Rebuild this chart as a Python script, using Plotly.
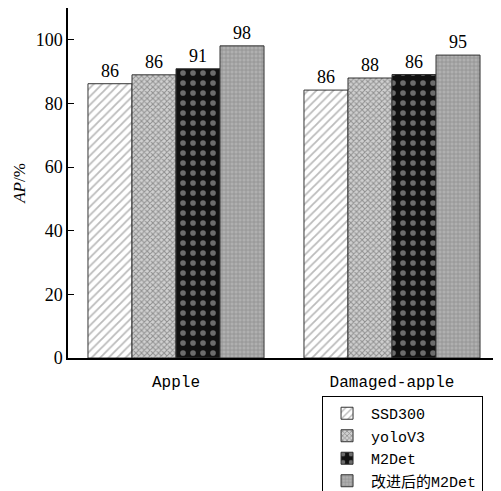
import plotly.graph_objects as go

categories = ["Apple", "Damaged-apple"]
series_names = ["SSD300", "yoloV3", "M2Det", "改进后的M2Det"]
bar_values = [
    [86.2, 84.2],
    [89.0, 88.0],
    [90.9, 89.1],
    [98.1, 95.2],
]
bar_labels = [
    ["86", "86"],
    ["86", "88"],
    ["91", "86"],
    ["98", "95"],
]
y_ticks = [0, 20, 40, 60, 80, 100]

patterns = [
    dict(shape="/", bgcolor="white", fgcolor="#777777", size=6, solidity=0.3),
    dict(shape="x", bgcolor="#d0d0d0", fgcolor="#505050", size=4, solidity=0.45),
    dict(shape=".", bgcolor="#111111", fgcolor="#c8c8c8", size=10, solidity=0.25),
    dict(shape="+", bgcolor="#b0b0b0", fgcolor="#6e6e6e", size=4, solidity=0.35),
]

fig = go.Figure()
for name, vals, labs, pat in zip(series_names, bar_values, bar_labels, patterns):
    fig.add_trace(go.Bar(
        x=categories, y=vals, name=name,
        text=labs, textposition="outside", cliponaxis=False,
        textfont=dict(family="Liberation Serif, DejaVu Serif", size=18, color="black"),
        marker=dict(color=pat["bgcolor"], pattern=pat,
                    line=dict(color="#333333", width=1)),
    ))

fig.update_layout(
    width=493, height=483,
    margin=dict(l=60, r=1, t=0, b=133, autoexpand=False),
    paper_bgcolor="white", plot_bgcolor="white",
    barmode="group", bargap=0.185, bargroupgap=0,
    showlegend=True,
    legend=dict(
        xref="container", yref="container",
        x=0.637, y=0.1967, xanchor="left", yanchor="top",
        bgcolor="white", bordercolor="black", borderwidth=1,
        font=dict(family="Liberation Mono, Noto Sans CJK SC", size=15, color="black"),
        tracegroupgap=0, itemwidth=38,
    ),
    xaxis=dict(
        showline=True, linecolor="black", linewidth=1.5,
        ticks="", showgrid=False, automargin=False,
        ticklabelstandoff=8,
        tickfont=dict(family="Liberation Mono, Noto Sans CJK SC", size=16, color="black"),
    ),
    yaxis=dict(
        range=[0, 110], tickvals=y_ticks, automargin=False,
        showline=True, linecolor="black", linewidth=1.5,
        ticks="inside", ticklen=6, tickcolor="black",
        showgrid=False, zeroline=False,
        tickfont=dict(family="Liberation Serif, DejaVu Serif", size=18, color="black"),
        title=dict(text="<i>AP</i>/%", standoff=6,
                   font=dict(family="Liberation Serif, DejaVu Serif", size=17, color="black")),
    ),
)

fig.write_html("out.html")
